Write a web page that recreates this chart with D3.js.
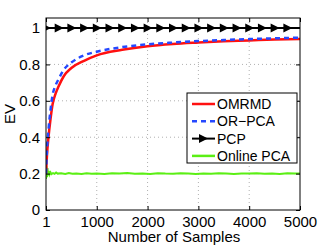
<!DOCTYPE html>
<html>
<head>
<meta charset="utf-8">
<script src="https://cdn.jsdelivr.net/npm/d3@7"></script>
<style>
  body { margin: 0; background: #fff; }
  text { font-family: "Liberation Sans", Arial, sans-serif; fill: #000; }
</style>
</head>
<body>
<script>
// values
var xTicks = [1, 1000, 2000, 3000, 4000, 5000];
var yTicks = [0, 0.2, 0.4, 0.6, 0.8, 1];

var omrmd = [[1,0.2],[20,0.3],[50,0.40],[90,0.5],[130,0.58],[190,0.64],[250,0.68],[350,0.735],[500,0.78],[750,0.82],[1000,0.85],[1500,0.88],[2000,0.90],[2500,0.912],[3000,0.92],[3500,0.927],[4000,0.932],[4500,0.937],[5000,0.94]];
var orpca = [[1,0.2],[20,0.33],[50,0.44],[90,0.55],[130,0.63],[190,0.685],[250,0.72],[350,0.77],[500,0.81],[750,0.85],[1000,0.87],[1500,0.895],[2000,0.91],[2500,0.92],[3000,0.928],[3500,0.934],[4000,0.939],[4500,0.943],[5000,0.947]];
var pcp = [[1,1],[5000,1]];
var pcpMarkers = [1,251,501,751,1001,1251,1501,1751,2001,2251,2501,2751,3001,3251,3501,3751,4001,4251,4501,4751];
var onlinePca = [[1,0.17],[10,0.24],[20,0.18],[30,0.23],[40,0.19],[55,0.215],[70,0.195],[90,0.207],[110,0.197],[140,0.203],[170,0.199],[200,0.206],[230,0.2],[300,0.202],[380,0.198],[450,0.203],[520,0.199],[600,0.201],[700,0.198],[800,0.202],[900,0.199],[1000,0.201],[1150,0.198],[1300,0.202],[1450,0.2],[1600,0.203],[1750,0.199],[1900,0.201],[2050,0.198],[2200,0.202],[2350,0.2],[2500,0.199],[2650,0.202],[2800,0.2],[2950,0.198],[3100,0.201],[3250,0.199],[3400,0.202],[3550,0.2],[3700,0.198],[3850,0.201],[4000,0.2],[4150,0.202],[4300,0.199],[4450,0.201],[4600,0.198],[4750,0.202],[4900,0.2],[5000,0.201]];

var legendNames = ["OMRMD", "OR\u2212PCA", "PCP", "Online PCA"];

var W = 332, H = 247;
var mLeft = 46, mRight = 300, mTop = 18, mBottom = 210;

var svg = d3.select("body").append("svg")
  .attr("width", W).attr("height", H);

var x = d3.scaleLinear().domain([1, 5000]).range([mLeft, mRight]);
var y = d3.scaleLinear().domain([0, 1.055]).range([mBottom, mTop]);

// grid
var grid = svg.append("g");
grid.selectAll(".gx").data(xTicks.slice(1, -1)).enter().append("line")
  .attr("x1", d => x(d)).attr("x2", d => x(d))
  .attr("y1", mTop).attr("y2", mBottom)
  .attr("stroke", "#b0b0b0").attr("stroke-width", 1).attr("stroke-dasharray", "1,3");
grid.selectAll(".gy").data(yTicks.slice(1)).enter().append("line")
  .attr("x1", mLeft).attr("x2", mRight)
  .attr("y1", d => y(d)).attr("y2", d => y(d))
  .attr("stroke", "#b0b0b0").attr("stroke-width", 1).attr("stroke-dasharray", "1,3");

var line = d3.line().x(d => x(d[0])).y(d => y(d[1]));

svg.append("clipPath").attr("id", "clip").append("rect")
  .attr("x", mLeft).attr("y", mTop).attr("width", mRight - mLeft).attr("height", mBottom - mTop);

var plot = svg.append("g").attr("clip-path", "url(#clip)");

plot.append("path").datum(onlinePca).attr("d", line)
  .attr("fill", "none").attr("stroke", "#5bef14").attr("stroke-width", 2);
plot.append("path").datum(omrmd).attr("d", line.curve(d3.curveMonotoneX))
  .attr("fill", "none").attr("stroke", "#ff1010").attr("stroke-width", 2.5);
plot.append("path").datum(orpca).attr("d", line.curve(d3.curveMonotoneX))
  .attr("fill", "none").attr("stroke", "#2548ff").attr("stroke-width", 2.5)
  .attr("stroke-dasharray", "5,4");
line.curve(d3.curveLinear);
plot.append("path").datum(pcp).attr("d", line)
  .attr("fill", "none").attr("stroke", "#000").attr("stroke-width", 2);
plot.selectAll(".mk").data(pcpMarkers).enter().append("path")
  .attr("transform", d => "translate(" + x(d) + "," + y(1) + ")")
  .attr("d", "M-4,-4.5L5,0L-4,4.5Z").attr("fill", "#000");

// axes box
svg.append("rect").attr("x", mLeft).attr("y", mTop)
  .attr("width", mRight - mLeft).attr("height", mBottom - mTop)
  .attr("fill", "none").attr("stroke", "#000").attr("stroke-width", 1);

// inward ticks (MATLAB style) on all four sides
var axB = d3.axisBottom(x).tickValues(xTicks).tickSize(-4).tickFormat(d3.format("d")).tickPadding(6);
var axL = d3.axisLeft(y).tickValues(yTicks).tickSize(-4).tickFormat(d => d === 0 || d === 1 ? d : d3.format(".1f")(d)).tickPadding(6);
var gB = svg.append("g").attr("transform", "translate(0," + mBottom + ")").call(axB);
var gL = svg.append("g").attr("transform", "translate(" + mLeft + ",0)").call(axL);
svg.append("g").attr("transform", "translate(0," + mTop + ")")
  .call(d3.axisTop(x).tickValues(xTicks).tickSize(-4).tickFormat(""));
svg.append("g").attr("transform", "translate(" + mRight + ",0)")
  .call(d3.axisRight(y).tickValues(yTicks).tickSize(-4).tickFormat(""));
svg.selectAll(".domain").remove();
svg.selectAll(".tick line").attr("stroke", "#000");
gB.selectAll("text").attr("font-size", 15).attr("font-family", "Liberation Sans, Arial, sans-serif");
gL.selectAll("text").attr("font-size", 15).attr("font-family", "Liberation Sans, Arial, sans-serif");

// axis labels
svg.append("text").attr("x", (mLeft + mRight) / 2 + 1).attr("y", 242)
  .attr("text-anchor", "middle").attr("font-size", 15).text("Number of Samples");
svg.append("text").attr("transform", "translate(15,114) rotate(-90)")
  .attr("text-anchor", "middle").attr("font-size", 15).text("EV");

// legend
var lg = svg.append("g");
lg.append("rect").attr("x", 187).attr("y", 93).attr("width", 110).attr("height", 70)
  .attr("fill", "#fff").attr("stroke", "#000").attr("stroke-width", 1);
var legendStyle = [
  { c: "#ff1010", dash: null, w: 2.5 },
  { c: "#2548ff", dash: "5,4", w: 2.5 },
  { c: "#000", dash: null, w: 2, marker: true },
  { c: "#5bef14", dash: null, w: 2.5 }
];
var items = lg.selectAll(".it").data(legendNames).enter().append("g")
  .attr("transform", (d, i) => "translate(0," + (104 + i * 17.3) + ")");
items.append("line").attr("x1", 192).attr("x2", 215).attr("y1", 0).attr("y2", 0)
  .attr("stroke", (d, i) => legendStyle[i].c)
  .attr("stroke-width", (d, i) => legendStyle[i].w)
  .attr("stroke-dasharray", (d, i) => legendStyle[i].dash);
items.filter((d, i) => legendStyle[i].marker).append("path")
  .attr("d", "M199,-4.5L208,0L199,4.5Z").attr("fill", "#000");
items.append("text").attr("x", 217).attr("y", 5).attr("font-size", 14).text(d => d);
</script>
</body>
</html>
